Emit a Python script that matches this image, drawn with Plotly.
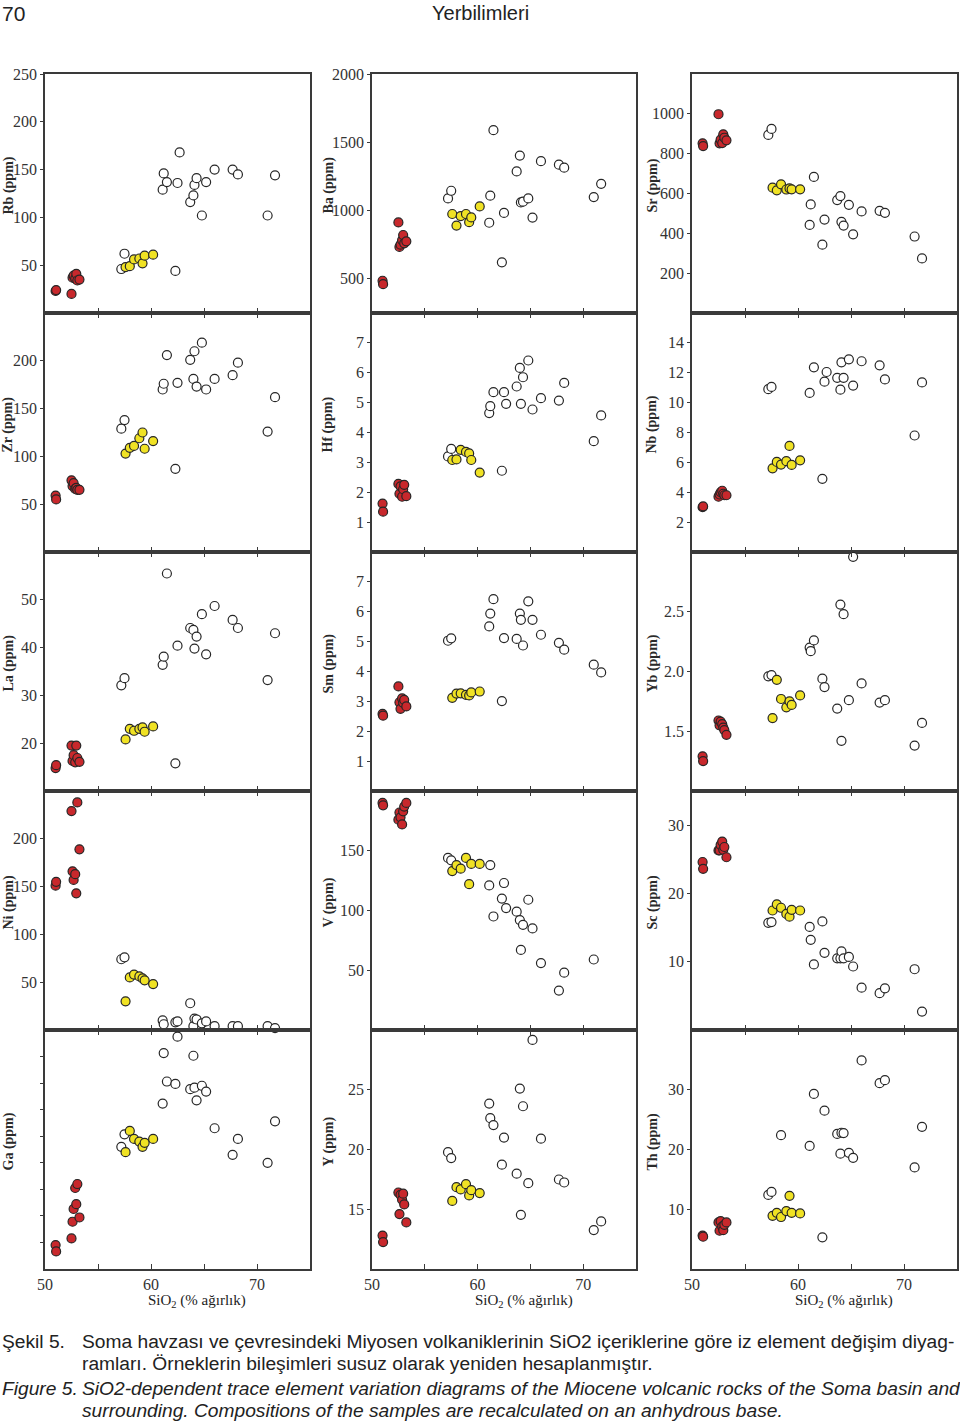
import plotly.graph_objects as go

W, H = 960, 1421

# SiO2 (wt %) of the samples in each group
red_sio2 = [51.0, 51.05, 52.5, 52.6, 52.7, 52.85, 52.95, 53.05, 53.25]
yel_sio2 = [57.6, 58.0, 58.4, 58.9, 59.2, 59.4, 60.2]
wht_sio2 = [57.2, 57.5, 61.1, 61.2, 61.5, 62.3, 62.5, 62.7, 63.7, 64.0,
            64.1, 64.3, 64.8, 65.2, 66.0, 67.7, 68.2, 71.0, 71.7, 58.4]

# trace elements (ppm), same sample order as above
rb_red = [23, 24, 20, 37, 39, 36, 41, 34, 35]
rb_yel = [48, 49, 56, 57, 52, 60, 61]
rb_wht = [46, 62, 129, 146, 137, 44, 136, 168, 116, 123, 134, 141, 102, 137, 150, 150, 145, 102, 144, None]

ba_red = [486, 461, 913, 734, 750, 783, 821, 760, 775]
ba_yel = [975, 890, 960, 975, 915, 950, 1030]
ba_wht = [1089, 1145, 911, 1109, 1589, 621, 983, None, 1287, 1403, 1060, 1065, 1089, 949, 1362, 1336, 1314, 1099, 1196, None]

sr_red = [852, 838, 998, 852, 870, 853, 897, 880, 867]
sr_yel = [629, 616, 646, 620, 626, 621, 621]
sr_wht = [894, 924, 442, 545, 683, 343, 469, None, 567, 587, 458, 439, 543, 395, 510, 513, 503, 384, 274, None]

zr_red = [59, 55, 75, 69, 72, 66, 67, 65, 65]
zr_yel = [103, 109, 111, 119, 125, 108, 116]
zr_wht = [129, 138, 170, 176, 206, 87, 177, None, 201, 181, 210, 173, 219, 170, 181, 185, 198, 126, 162, None]

hf_red = [1.62, 1.35, 2.28, 1.95, 2.2, 1.85, 2.1, 2.25, 1.87]
hf_yel = [3.08, 3.1, 3.42, 3.35, 3.30, 3.08, 2.66]
hf_wht = [3.2, 3.45, 4.65, 4.88, 5.35, 2.72, 5.35, 4.96, 5.54, 6.16, 4.96, 5.85, 6.41, 4.77, 5.15, 5.07, 5.66, 3.71, 4.57, None]

nb_red = [3.0, 3.05, 3.7, 3.85, 4.0, 4.1, 3.9, 3.8, 3.8]
nb_yel = [5.6, 6.03, 5.85, 6.08, 7.1, 5.83, 6.14]
nb_wht = [10.9, 11.05, 10.65, None, 12.36, 4.9, 11.4, 12.05, 11.66, 10.87, 12.7, 11.66, 12.9, 11.14, 12.77, 12.5, 11.55, 7.8, 11.35, None]

la_red = [14.8, 15.4, 19.5, 16.3, 17.5, 16.0, 19.5, 16.9, 16.1]
la_yel = [20.8, 23.0, 22.6, 23.0, 23.3, 22.4, 23.5]
la_wht = [32.1, 33.6, 36.4, 38.1, 55.5, 15.8, 40.4, None, 44.1, 43.7, 39.8, 42.3, 47.0, 38.6, 48.7, 45.8, 44.1, 33.2, 43.0, None]

sm_red = [2.58, 2.52, 3.5, 2.97, 2.75, 3.1, 2.95, 3.05, 2.83]
sm_yel = [3.12, 3.26, 3.27, 3.22, 3.2, 3.3, 3.33]
sm_wht = [5.03, 5.11, 5.51, 5.94, 6.42, 3.01, 5.12, None, 5.09, 5.94, 5.73, 4.87, 6.35, 5.73, 5.23, 4.96, 4.73, 4.23, 3.97, None]

yb_red = [1.29, 1.25, 1.59, 1.55, 1.58, 1.56, 1.53, 1.51, 1.47]
yb_yel = [1.61, 1.93, 1.77, 1.70, 1.75, 1.72, 1.80]
yb_wht = [1.96, 1.97, 2.2, 2.17, 2.26, 1.94, 1.87, None, 1.69, 2.56, 1.42, 2.48, 1.76, 2.96, 1.9, 1.74, 1.76, 1.38, 1.57, None]

ni_red = [151, 155, 229, 166, 157, 163, 143, 238, 189]
ni_yel = [30, 55, 58, 56, 54, 52, 48]
ni_wht = [74, 76, 10, 6, None, 8, 9, None, 28, 4, 12, 11, 7, 9, 4, 4, 4, 4, 2, None]

v_red = [190, 188, 176, 182, 178, 172, 183, 187, 190]
v_yel = [133, 138, 135, 144, 122, 139, 139]
v_wht = [144, 142, 121, 138, 95, 110, 123, 102, 99, 92, 67, 88, 109, 85, 56, 33, 48, 59, None, None]

sc_red = [24.6, 23.6, 26.3, 26.3, 27.1, 27.6, 26.4, 26.8, 25.3]
sc_yel = [17.5, 18.4, 17.9, 17.0, 16.6, 17.6, 17.5]
sc_wht = [15.7, 15.8, 15.1, 13.2, 9.6, 15.9, 11.3, None, 10.5, 10.5, 11.5, 10.5, 10.7, 9.3, 6.2, 5.4, 6.1, 8.9, 2.7, None]

ga_red = [12.9, 12.66, 13.15, 13.78, 14.26, 15.05, 14.44, 15.2, 13.94]
ga_yel = [16.4, 17.2, 16.9, 16.8, 16.6, 16.75, 16.9]
ga_wht = [16.6, 17.07, 18.23, 20.13, 19.06, 18.97, 20.75, None, 18.77, 20.03, 18.83, 18.35, 18.9, 18.68, 17.3, 16.3, 16.9, 16.0, 17.56, None]

y_red = [12.8, 12.25, 16.4, 14.6, 16.2, 15.8, 16.3, 15.4, 13.9]
y_yel = [15.7, 16.85, 16.66, 17.1, 16.16, 16.6, 16.35]
y_wht = [19.78, 19.28, 23.84, 22.62, 22.04, 18.73, 21.0, None, 17.98, 25.1, 14.53, 23.62, 17.18, 29.17, 20.91, 17.49, 17.24, 13.26, 13.98, None]

th_red = [5.6, 5.4, 7.8, 6.4, 8.0, 7.1, 6.5, 7.4, 7.8]
th_yel = [8.9, 9.4, 8.7, 9.7, 12.25, 9.4, 9.3]
th_wht = [12.4, 12.9, 20.6, None, 29.3, 5.3, 26.5, None, 22.6, 19.3, 22.8, 22.75, 19.45, 18.6, 34.9, 31.1, 31.6, 17.0, 23.8, 22.4]

sio2_ticks = [50, 55, 60, 65, 70, 75]
sio2_labels = ["50", "", "60", "", "70", ""]

# element, data, y range, y ticks, y tick labels
panels = [
    ("Rb", rb_red, rb_yel, rb_wht, [0, 250], [50, 100, 150, 200, 250], None),
    ("Ba", ba_red, ba_yel, ba_wht, [250, 2000], [500, 1000, 1500, 2000], None),
    ("Sr", sr_red, sr_yel, sr_wht, [0, 1200], [200, 400, 600, 800, 1000], None),
    ("Zr", zr_red, zr_yel, zr_wht, [0, 250], [50, 100, 150, 200], None),
    ("Hf", hf_red, hf_yel, hf_wht, [0, 8], [1, 2, 3, 4, 5, 6, 7], None),
    ("Nb", nb_red, nb_yel, nb_wht, [0, 16], [2, 4, 6, 8, 10, 12, 14], None),
    ("La", la_red, la_yel, la_wht, [10, 60], [20, 30, 40, 50], None),
    ("Sm", sm_red, sm_yel, sm_wht, [0, 8], [1, 2, 3, 4, 5, 6, 7], None),
    ("Yb", yb_red, yb_yel, yb_wht, [1, 3], [1.5, 2.0, 2.5], ["1.5", "2.0", "2.5"]),
    ("Ni", ni_red, ni_yel, ni_wht, [0, 250], [50, 100, 150, 200], None),
    ("V", v_red, v_yel, v_wht, [0, 200], [50, 100, 150], None),
    ("Sc", sc_red, sc_yel, sc_wht, [0, 35], [10, 20, 30], None),
    ("Ga", ga_red, ga_yel, ga_wht, [12, 21], [13, 14, 15, 16, 17, 18, 19, 20], [" "] * 8),
    ("Y", y_red, y_yel, y_wht, [10, 30], [15, 20, 25], None),
    ("Th", th_red, th_yel, th_wht, [0, 40], [10, 20, 30], None),
]

col_px = [(45, 310), (372, 636), (692, 957)]
row_px = [(74, 313), (313, 552), (552, 791), (791, 1030), (1030, 1269)]
ytitle_px = [8, 328, 652]

RED = "#c8282c"
YEL = "#f0e224"
EDGE = "#262626"
AX = "#3a3a3a"
SERIF = "Liberation Serif, Times New Roman, serif"
SANS = "Liberation Sans, Arial, sans-serif"


def fx(px):
    return px / W


def fy(py):
    return 1 - py / H


fig = go.Figure()
annots = []

for i, (el, r, yl, w, yr, tv, tt) in enumerate(panels):
    row, col = divmod(i, 3)
    n = "" if i == 0 else str(i + 1)
    x0, x1 = col_px[col]
    y0, y1 = row_px[row]

    for xs, ys, fill in ((wht_sio2, w, "white"), (yel_sio2, yl, YEL), (red_sio2, r, RED)):
        fig.add_trace(go.Scatter(
            x=xs, y=ys, xaxis="x" + n, yaxis="y" + n, mode="markers",
            marker=dict(size=9, color=fill, line=dict(color=EDGE, width=1.2)),
            showlegend=False, cliponaxis=False, hoverinfo="skip"))

    bottom = row == 4
    fig.layout["xaxis" + n] = dict(
        domain=[fx(x0), fx(x1)], anchor="y" + n, range=[50, 75],
        tickvals=sio2_ticks, ticktext=sio2_labels if bottom else [" "] * 6,
        ticks="inside", ticklen=5, tickwidth=1.3, tickcolor=AX,
        ticklabelstandoff=0, automargin=False,
        showline=True, linecolor=AX, linewidth=1.7,
        mirror=True if row == 0 else "ticks",
        showgrid=False, zeroline=False,
        tickfont=dict(family=SERIF, size=16, color="#333"))
    fig.layout["yaxis" + n] = dict(
        domain=[fy(y1), fy(y0)], anchor="x" + n, range=yr,
        tickvals=tv, ticktext=tt if tt else [str(v) for v in tv],
        ticks="outside", ticklen=3, tickwidth=1.2, tickcolor=AX,
        automargin=False,
        showline=True, linecolor=AX, linewidth=1.7, mirror=True,
        showgrid=False, zeroline=False,
        tickfont=dict(family=SERIF, size=16, color="#333"))

    annots.append(dict(
        text=f"<b>{el} (ppm)</b>", x=fx(ytitle_px[col]), y=fy((y0 + y1) / 2 - 8),
        xref="paper", yref="paper", showarrow=False, textangle=-90,
        xanchor="center", yanchor="middle",
        font=dict(family=SERIF, size=14, color="#2a2a2a")))

    if bottom:
        annots.append(dict(
            text="SiO<sub>2</sub> (% ağırlık)", x=fx(x0 + 152), y=fy(1301),
            xref="paper", yref="paper", showarrow=False,
            xanchor="center", yanchor="middle",
            font=dict(family=SERIF, size=15, color="#222")))

# page header
annots.append(dict(text="70", x=0, y=1, xref="paper", yref="paper",
                   showarrow=False, xanchor="left", yanchor="top",
                   font=dict(family=SANS, size=21, color="#222")))
annots.append(dict(text="Yerbilimleri", x=0.5, y=1, xref="paper", yref="paper",
                   showarrow=False, xanchor="center", yanchor="top",
                   font=dict(family=SANS, size=20, color="#222")))

# caption
caption = [
    (0, 1341, "Şekil 5."),
    (80, 1341, "Soma havzası ve çevresindeki Miyosen volkaniklerinin SiO2 içeriklerine göre iz element değişim diyag-"),
    (80, 1363, "ramları. Örneklerin bileşimleri susuz olarak yeniden hesaplanmıştır."),
    (0, 1388, "<i>Figure 5.</i>"),
    (80, 1388, "<i>SiO2-dependent trace element variation diagrams of the Miocene volcanic rocks of the Soma basin and</i>"),
    (80, 1410, "<i>surrounding. Compositions of the samples are recalculated on an anhydrous base.</i>"),
]
for cx, cy, txt in caption:
    annots.append(dict(text=txt, x=fx(cx), y=fy(cy), xref="paper", yref="paper",
                       showarrow=False, xanchor="left", yanchor="middle",
                       font=dict(family=SANS, size=19.2, color="#222")))

fig.update_layout(
    width=W, height=H, margin=dict(l=0, r=0, t=0, b=0, autoexpand=False),
    paper_bgcolor="white", plot_bgcolor="white",
    annotations=annots, showlegend=False)

# pin the plot to the page corner
pin = ("document.documentElement.style.margin='0';"
       "document.body.style.margin='0';document.body.style.overflow='hidden';"
       "var d=document.getElementById('{plot_id}');"
       "d.style.position='absolute';d.style.left='0px';d.style.top='0px';")
fig.write_html("out.html", config={"displayModeBar": False}, post_script=pin)
